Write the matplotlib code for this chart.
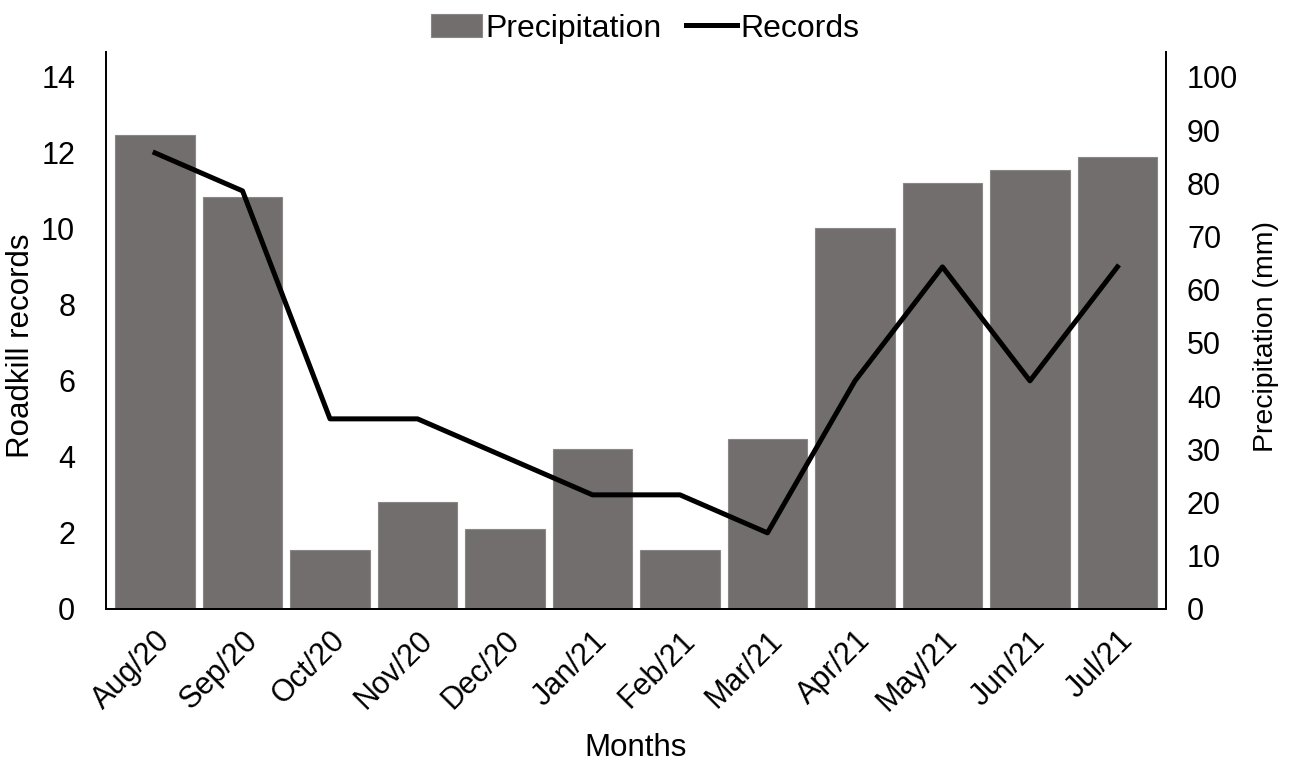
import matplotlib
matplotlib.use('Agg')
import matplotlib.pyplot as plt
import numpy as np

# Monthly values
months = ['Aug/20', 'Sep/20', 'Oct/20', 'Nov/20', 'Dec/20', 'Jan/21',
          'Feb/21', 'Mar/21', 'Apr/21', 'May/21', 'Jun/21', 'Jul/21']
precipitation = [89, 77.5, 11, 20, 15, 30, 11, 32, 71.5, 80, 82.5, 85]
records = [12, 11, 5, 5, 4, 3, 3, 2, 6, 9, 6, 9]

plt.rcParams['font.family'] = ['Liberation Sans', 'DejaVu Sans']
FONT = 22

figure = plt.figure(figsize=(12.9, 7.62), dpi=100)
ax = figure.add_axes([0.082, 0.201, 0.822, 0.731])
ax2 = ax.twinx()

x = np.arange(len(months))

# Bars go on the right axis, line on the left axis (drawn above the bars)
bars = ax2.bar(x, precipitation, width=0.91, color='#736e6e', edgecolor='#8c8787',
               linewidth=0.8, label='Precipitation')
line, = ax.plot(x, records, color='black', linewidth=3.6, label='Records')
ax.set_zorder(ax2.get_zorder() + 1)
ax.patch.set_visible(False)

ax.set_xlim(-0.563, len(months) - 0.443)
ax.set_ylim(0, 14.66)
ax2.set_ylim(0, 104.7)
ax.set_yticks(range(0, 15, 2))
ax2.set_yticks(range(0, 101, 10))

ax.set_xticks(x)
ax.set_xticklabels(months, rotation=45, ha='right', rotation_mode='anchor')

for a in (ax, ax2):
  a.spines['top'].set_visible(False)
  a.tick_params(length=0, labelsize=FONT)
  for s in ('left', 'right', 'bottom'):
    a.spines[s].set_linewidth(1.3)
ax.tick_params(axis='y', pad=22)
ax2.tick_params(axis='y', pad=15)
ax.tick_params(axis='x', pad=12)

# Axis titles placed by hand so they stay inside the figure
ax.set_ylabel('Roadkill records', fontsize=22.5)
ax.yaxis.set_label_coords(-0.066, 0.473)
ax2.set_ylabel('Precipitation (mm)', fontsize=20.5)
ax2.yaxis.set_label_coords(1.082, 0.489)
ax.set_xlabel('Months', fontsize=22.5, labelpad=11)

figure.legend([bars, line], ['Precipitation', 'Records'], loc='upper center',
              bbox_to_anchor=(0.5, 1.02), ncol=2, frameon=False, fontsize=23,
              handlelength=1.6, handletextpad=0.1, columnspacing=0.75)

plt.savefig('out.png', dpi=100)
plt.close()
